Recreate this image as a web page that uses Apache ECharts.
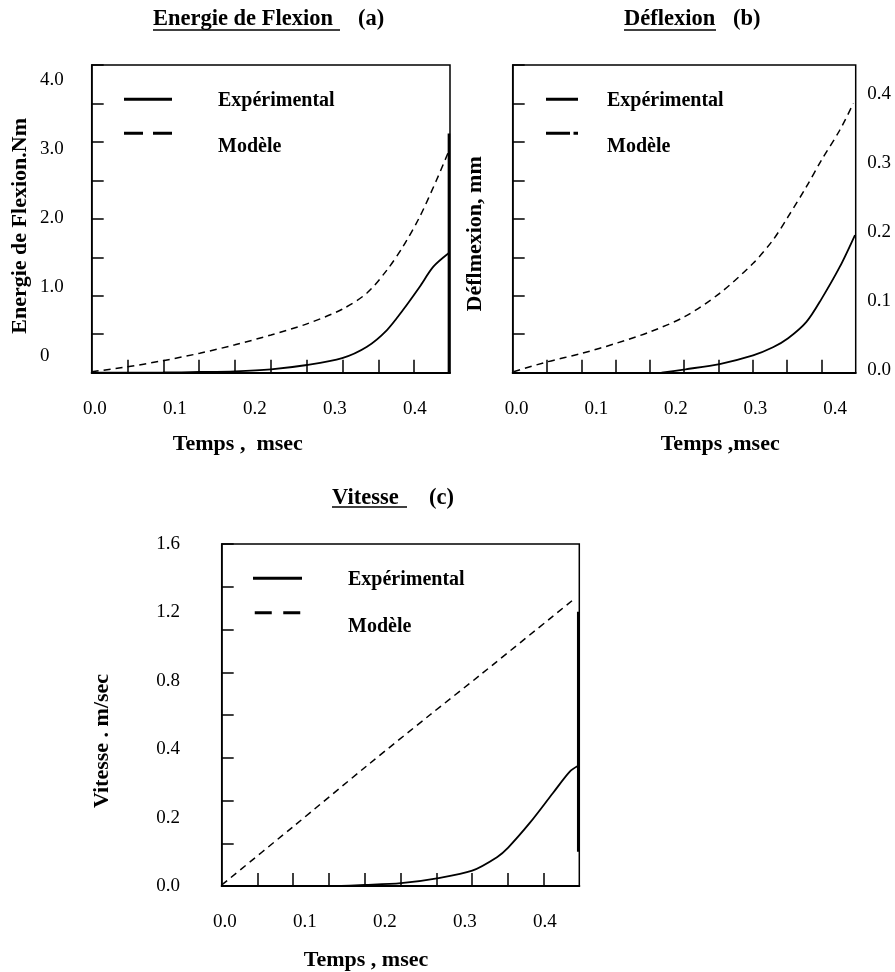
<!DOCTYPE html>
<html>
<head>
<meta charset="utf-8">
<script src="https://cdn.jsdelivr.net/npm/echarts@6/dist/echarts.min.js"></script>
<style>
html,body{margin:0;padding:0;background:#fff;}
#chart{width:895px;height:972px;}
</style>
</head>
<body>
<div id="chart"></div>
<script>
// ---------- DATA ----------
// Panel (a) Energie de Flexion (Nm) vs Temps (msec)
const tA_model = [-0.004, 0.040, 0.085, 0.131, 0.175, 0.220, 0.265, 0.309, 0.340, 0.365, 0.385, 0.406, 0.427, 0.442];
const eA_model = [0.013, 0.075, 0.156, 0.253, 0.363, 0.490, 0.635, 0.825, 1.036, 1.335, 1.638, 2.028, 2.505, 2.873];
const tA_exp = [-0.004, 0.085, 0.131, 0.175, 0.220, 0.265, 0.309, 0.340, 0.365, 0.385, 0.406, 0.423, 0.442];
const eA_exp = [0, 0.003, 0.009, 0.018, 0.044, 0.100, 0.190, 0.338, 0.555, 0.815, 1.118, 1.378, 1.552];
const tA_edge = [0.4425, 0.4425];
const eA_edge = [0, 3.11];

// Panel (b) Déflexion (mm) vs Temps (msec)
const tB_model = [-0.004, 0.039, 0.082, 0.125, 0.168, 0.211, 0.255, 0.297, 0.322, 0.341, 0.364, 0.383, 0.406, 0.423];
const dB_model = [0.0013, 0.0143, 0.0252, 0.0382, 0.0533, 0.0728, 0.1032, 0.1422, 0.1725, 0.2028, 0.2418, 0.2765, 0.3155, 0.3502];
const tB_exp = [0.182, 0.212, 0.255, 0.297, 0.322, 0.341, 0.364, 0.383, 0.406, 0.425];
const dB_exp = [0, 0.0044, 0.0113, 0.0225, 0.0330, 0.0447, 0.0660, 0.0960, 0.1378, 0.1790];

// Panel (c) Vitesse (m/sec) vs Temps (msec)
const tC_model = [-0.004, 0.085, 0.177, 0.256, 0.319, 0.4375];
const vC_model = [0.005, 0.277, 0.561, 0.800, 0.987, 1.346];
const tC_exp = [-0.004, 0.130, 0.175, 0.220, 0.265, 0.309, 0.340, 0.354, 0.381, 0.410, 0.431, 0.441];
const vC_exp = [0, 0, 0.005, 0.013, 0.036, 0.072, 0.135, 0.180, 0.295, 0.435, 0.535, 0.561];
const tC_edge = [0.4416, 0.4416];
const vC_edge = [0.160, 1.283];

// Tick labels
const xTickVals = [0, 0.1, 0.2, 0.3, 0.4];
const xTickLabels = ['0.0', '0.1', '0.2', '0.3', '0.4'];
const yTickValsA = [0, 1, 2, 3, 4];
const yTickLabelsA = ['0', '1.0', '2.0', '3.0', '4.0'];
const yTickValsB = [0, 0.1, 0.2, 0.3, 0.4];
const yTickLabelsB = ['0.0', '0.1', '0.2', '0.3', '0.4'];
const yTickValsC = [0, 1, 2, 3, 4, 5];
const yTickLabelsC = ['0.0', '0.2', '0.4', '0.8', '1.2', '1.6'];

const seriesNames = ['Expérimental', 'Modèle'];

// ---------- BUILD ----------
const FONT = "'Liberation Serif','Times New Roman',serif";
const zip = (a, b) => a.map((v, i) => [v, b[i]]);
const lookup = (vals, labels) => v => {
  const i = vals.findIndex(t => Math.abs(t - v) < 1e-6);
  return i >= 0 ? labels[i] : '';
};
const evenTicks = (min, max, n) => {
  const r = [];
  for (let k = 1; k < n; k++) r.push(min + k * (max - min) / n);
  return r;
};

function xAxisCfg(gridIndex, min, max, name, nameGap, namePad) {
  return {
    type: 'value', gridIndex, min, max,
    axisLine: { show: true, onZero: false, lineStyle: { color: '#000', width: 2 } },
    axisTick: { show: true, inside: true, length: 13, customValues: evenTicks(min, max, 10), lineStyle: { color: '#000', width: 1.5 } },
    axisLabel: { show: true, customValues: xTickVals, formatter: lookup(xTickVals, xTickLabels), margin: 27, color: '#000', fontFamily: FONT, fontSize: 19 },
    splitLine: { show: false },
    name, nameLocation: 'middle', nameGap,
    nameTextStyle: { color: '#000', fontFamily: FONT, fontWeight: 'bold', fontSize: 22, padding: namePad }
  };
}
function yDataAxis(gridIndex, min, max, interval, extra) {
  return Object.assign({
    type: 'value', gridIndex, min, max, interval, position: 'left',
    axisLine: { show: true, onZero: false, lineStyle: { color: '#000', width: 1.5 } },
    axisTick: { show: true, inside: true, length: 12, lineStyle: { color: '#000', width: 1.5 } },
    axisLabel: { show: false },
    splitLine: { show: false }
  }, extra || {});
}
function yLabelAxis(gridIndex, min, max, vals, labels, position, align, margin, extra) {
  return Object.assign({
    type: 'value', gridIndex, min, max, position,
    axisLine: { show: false }, axisTick: { show: false }, splitLine: { show: false },
    axisLabel: { show: true, customValues: vals, formatter: lookup(vals, labels), align, margin, color: '#000', fontFamily: FONT, fontSize: 19 }
  }, extra || {});
}
const yNameStyle = pad => ({ color: '#000', fontFamily: FONT, fontWeight: 'bold', fontSize: 22, padding: pad });

function lineSeries(name, x, y, xi, yi, dashed, width) {
  return {
    type: 'line', name, data: zip(x, y), xAxisIndex: xi, yAxisIndex: yi,
    showSymbol: false, symbol: 'none', smooth: 0.3,
    color: '#000',
    lineStyle: { color: '#000', width: width || 1.6, type: dashed ? [7, 5] : 'solid' },
    emphasis: { disabled: true }, silent: true, animation: false
  };
}

// Legend icons: a tiny invisible point sets the icon box height, so that the
// label sits below the dashed sample as in the original figure.
function legendCfg(left, top, itemWidth, itemHeight, gap, solidIcon, dashIcon, padLeft) {
  return {
    orient: 'vertical', left, top, itemWidth, itemHeight, itemGap: gap, padding: 0,
    selectedMode: false,
    textStyle: { color: '#000', fontFamily: FONT, fontWeight: 'bold', fontSize: 20, padding: [0, 0, 0, padLeft] },
    data: [
      { name: seriesNames[0], icon: solidIcon },
      { name: seriesNames[1], icon: dashIcon }
    ]
  };
}

const titleStyle = { color: '#000', fontFamily: FONT, fontWeight: 'bold', fontSize: 22.5 };

const option = {
  backgroundColor: '#fff',
  animation: false,
  title: [
    { text: 'Energie de Flexion', left: 153, top: 8, padding: 0, textStyle: titleStyle },
    { text: '(a)', left: 358, top: 8, padding: 0, textStyle: titleStyle },
    { text: 'Déflexion', left: 624, top: 8, padding: 0, textStyle: titleStyle },
    { text: '(b)', left: 733, top: 8, padding: 0, textStyle: titleStyle },
    { text: 'Vitesse', left: 332, top: 487, padding: 0, textStyle: titleStyle },
    { text: '(c)', left: 429, top: 487, padding: 0, textStyle: titleStyle }
  ],
  graphic: [
    { type: 'line', shape: { x1: 153, y1: 30, x2: 340, y2: 30 }, style: { stroke: '#000', lineWidth: 1.5 } },
    { type: 'line', shape: { x1: 624, y1: 30, x2: 716, y2: 30 }, style: { stroke: '#000', lineWidth: 1.5 } },
    { type: 'line', shape: { x1: 332, y1: 507, x2: 407, y2: 507 }, style: { stroke: '#000', lineWidth: 1.5 } }
  ],
  legend: [
    legendCfg(124, 85.8, 48, 31, 15,
      'path://M0,0h0.01v0.01h-0.01zM0,12h48v3h-48zM0,30.99h0.01v0.01h-0.01z',
      'path://M0,0h19v3h-19zM29,0h19v3h-19zM0,30.99h0.01v0.01h-0.01z', 41),
    legendCfg(546, 85.8, 32, 31, 15,
      'path://M0,0h0.01v0.01h-0.01zM0,12h32v3h-32zM0,30.99h0.01v0.01h-0.01z',
      'path://M0,0h24v3h-24zM27.5,0h4.5v3h-4.5zM0,30.99h0.01v0.01h-0.01z', 24),
    legendCfg(253, 563.8, 49, 32, 15.4,
      'path://M0,0h0.01v0.01h-0.01zM0,13h49v3h-49zM0,31.99h0.01v0.01h-0.01z',
      'path://M0,0h17v3h-17zM28.5,0h17v3h-17zM0,31.99h0.01v0.01h-0.01z', 41)
  ],
  grid: [
    { left: 91.7, top: 65, width: 358.3, height: 307.7, show: true, borderColor: '#000', borderWidth: 1.5, containLabel: false, outerBoundsMode: 'none' },
    { left: 512.7, top: 65, width: 343, height: 307.7, show: true, borderColor: '#000', borderWidth: 1.5, containLabel: false, outerBoundsMode: 'none' },
    { left: 221.7, top: 544, width: 357.6, height: 342, show: true, borderColor: '#000', borderWidth: 1.5, containLabel: false, outerBoundsMode: 'none' }
  ],
  xAxis: [
    xAxisCfg(0, -0.0041, 0.4438, 'Temps ,  msec', 61, [0, 66, 0, 0]),
    xAxisCfg(1, -0.005, 0.4259, 'Temps ,msec', 61, [0, 0, 0, 72]),
    xAxisCfg(2, -0.0041, 0.4429, 'Temps , msec', 63, [0, 69, 0, 0])
  ],
  yAxis: [
    yDataAxis(0, 0, 4, 0.5),
    yLabelAxis(0, -0.242, 4.217, yTickValsA, yTickLabelsA, 'left', 'left', 51.7,
      { name: 'Energie de Flexion.Nm', nameLocation: 'middle', nameRotate: 90, nameGap: 60, nameTextStyle: yNameStyle([0, 14, 0, 0]) }),
    yDataAxis(1, 0, 0.4, 0.05,
      { name: 'Déflmexion, mm', nameLocation: 'middle', nameRotate: 90, nameGap: 26, nameTextStyle: yNameStyle([0, 30, 0, 0]) }),
    yLabelAxis(1, -0.0039, 0.442, yTickValsB, yTickLabelsB, 'right', 'left', 11.6),
    yDataAxis(2, 0, 1.6, 0.2),
    yLabelAxis(2, 0, 5, yTickValsC, yTickLabelsC, 'left', 'right', 41.7,
      { name: 'Vitesse . m/sec', nameLocation: 'middle', nameRotate: 90, nameGap: 108, nameTextStyle: yNameStyle([0, 52, 0, 0]) })
  ],
  series: [
    lineSeries(seriesNames[0], tA_exp, eA_exp, 0, 0, false, 1.8),
    lineSeries(seriesNames[1], tA_model, eA_model, 0, 0, true, 1.5),
    lineSeries('bordA', tA_edge, eA_edge, 0, 0, false, 2.6),
    lineSeries(seriesNames[0], tB_exp, dB_exp, 1, 2, false, 1.8),
    lineSeries(seriesNames[1], tB_model, dB_model, 1, 2, true, 1.5),
    lineSeries(seriesNames[0], tC_exp, vC_exp, 2, 4, false, 1.8),
    lineSeries(seriesNames[1], tC_model, vC_model, 2, 4, true, 1.5),
    lineSeries('bordC', tC_edge, vC_edge, 2, 4, false, 2.6)
  ]
};

const chart = echarts.init(document.getElementById('chart'), null, { renderer: 'canvas' });
chart.setOption(option);
</script>
</body>
</html>
